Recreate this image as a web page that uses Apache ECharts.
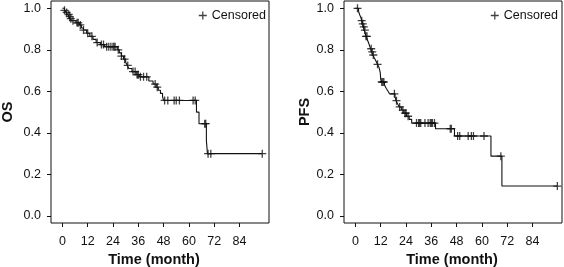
<!DOCTYPE html>
<html>
<head>
<meta charset="utf-8">
<script src="https://cdn.jsdelivr.net/npm/echarts@6/dist/echarts.min.js"></script>
<style>
  html, body { margin: 0; background: #fff; }
  #chart { width: 564px; height: 267px; }
</style>
</head>
<body>
<div id="chart"></div>
<script>
// OS: step times and survival after each step
const osTime = [0, 1.0, 1.8, 2.5, 3.2, 3.8, 4.5, 6.5, 8.0, 9.0, 10.0, 11.5, 13, 14.5, 16, 18, 20,
  26, 27, 28, 29, 30, 30.8, 31.5, 33, 35, 36.5, 41, 43, 44.5, 45.5, 46.5, 47.5, 48,
  63.6, 64.8, 68.3, 68.8];
const osSurv = [1, 0.99, 0.98, 0.97, 0.96, 0.95, 0.94, 0.93, 0.92, 0.905, 0.895, 0.88, 0.865, 0.85, 0.835, 0.825, 0.815,
  0.80, 0.785, 0.77, 0.755, 0.74, 0.725, 0.71, 0.695, 0.68, 0.67, 0.65, 0.635, 0.62, 0.605, 0.59, 0.575, 0.556,
  0.50, 0.444, 0.364, 0.30];
const osEnd = 94.8;
const osCensor = [1, 2, 3, 3.5, 4, 5, 7, 7.5, 8.5, 10, 12, 14, 16.5, 18.5, 19.5, 21, 22, 23, 24, 24.5, 25,
  26.5, 28, 29.5, 31, 33.5, 34.5, 35.5, 36, 37, 38.5, 40, 44, 45, 48.5, 50, 53, 54, 55.5, 62, 63,
  67.5, 68, 69.1, 70.4, 94.8];

// PFS
const pfsTime = [0, 1.5, 2.0, 2.6, 3.0, 3.4, 3.8, 4.2, 4.6, 5.0, 5.6, 6.2, 6.7, 7.2, 7.7, 8.3, 9.0, 9.8,
  10.5, 11.2, 11.8, 12.0, 12.3, 13.8, 14.6, 15.5, 16.2, 18.8, 19.3, 20.0, 20.8, 21.8, 23, 24.3, 25.5, 26.7,
  38, 47, 64.3, 69.5];
const pfsSurv = [1, 0.985, 0.97, 0.955, 0.94, 0.925, 0.91, 0.895, 0.88, 0.865, 0.85, 0.835, 0.82, 0.805, 0.79, 0.775, 0.76, 0.745,
  0.73, 0.715, 0.69, 0.66, 0.645, 0.63, 0.615, 0.60, 0.588, 0.573, 0.555, 0.54, 0.525, 0.51, 0.495, 0.48, 0.465, 0.447,
  0.42, 0.385, 0.288, 0.144];
const pfsEnd = 95.8;
const pfsCensor = [1, 3, 3.5, 4, 4.5, 5, 5.5, 7.5, 8, 8.5, 10.5, 12.5, 13, 13.5, 18.5, 19.5, 21, 22.5, 23.5, 24, 25,
  29, 30, 30.5, 31, 33, 34.5, 35.5, 36, 36.5, 37.5, 45, 45.5, 48.5, 49.5, 53.5, 55, 56, 61, 69, 95.8];

const xTicks = [0, 12, 24, 36, 48, 60, 72, 84];
const yTicks = [0, 0.2, 0.4, 0.6, 0.8, 1.0];

const plusPath = 'path://M0,4.2H10V5.8H0ZM4.2,0H5.8V10H4.2Z';
const ink = '#111';
const font = 'Liberation Sans, Arial, Helvetica, sans-serif';

// value of the step function at time t
function survAt(times, surv, t) {
  let s = surv[0];
  for (let i = 0; i < times.length; i++) {
    if (times[i] <= t) s = surv[i];
  }
  return s;
}

function stepData(times, surv, end) {
  const d = times.map((t, i) => [t, surv[i]]);
  d.push([end, surv[surv.length - 1]]);
  return d;
}

function censorData(times, surv, cens) {
  return cens.map(c => [c, survAt(times, surv, c)]);
}

function makeX(idx, padRight) {
  return {
    gridIndex: idx, type: 'value', min: -5.4, max: 98,
    name: 'Time (month)', nameLocation: 'middle', nameGap: 28,
    nameTextStyle: { fontFamily: font, fontSize: 14.5, fontWeight: 'bold', color: ink, padding: [0, padRight, 0, 0] },
    axisLine: { show: false, onZero: false },
    axisTick: { customValues: xTicks, length: 4, lineStyle: { color: ink } },
    axisLabel: { customValues: xTicks, margin: 12, fontFamily: font, fontSize: 12.5, color: ink },
    splitLine: { show: false }
  };
}

function makeY(idx, name, gap) {
  return {
    gridIndex: idx, type: 'value', min: -0.034, max: 1.035,
    name: name, nameLocation: 'middle', nameGap: gap,
    nameTextStyle: { fontFamily: font, fontSize: 14.5, fontWeight: 'bold', color: ink },
    axisLine: { show: false, onZero: false },
    axisTick: { customValues: yTicks, length: 4, lineStyle: { color: ink } },
    axisLabel: { customValues: yTicks, margin: 10, fontFamily: font, fontSize: 12.5, color: ink,
      formatter: v => v.toFixed(1) },
    splitLine: { show: false }
  };
}

const chart = echarts.init(document.getElementById('chart'));

chart.setOption({
  animation: false,
  backgroundColor: '#fff',
  grid: [
    { left: 51, top: 1, width: 218, height: 222, outerBoundsMode: 'none', show: true, borderColor: ink, borderWidth: 1 },
    { left: 344, top: 1, width: 218, height: 222, outerBoundsMode: 'none', show: true, borderColor: ink, borderWidth: 1 }
  ],
  legend: [
    { data: [{ name: 'Censored', icon: plusPath }], right: 293, top: 4, itemWidth: 8, itemHeight: 8,
      selectedMode: false, textStyle: { fontFamily: font, fontSize: 12.5, color: ink } },
    { data: [{ name: 'Censored', icon: plusPath }], right: 1, top: 4, itemWidth: 8, itemHeight: 8,
      selectedMode: false, textStyle: { fontFamily: font, fontSize: 12.5, color: ink } }
  ],
  xAxis: [makeX(0, 12), makeX(1, 2)],
  yAxis: [makeY(0, 'OS', 36), makeY(1, 'PFS', 32)],
  series: [
    {
      type: 'line', step: 'end', xAxisIndex: 0, yAxisIndex: 0, showSymbol: false,
      lineStyle: { color: ink, width: 1.1 }, data: stepData(osTime, osSurv, osEnd)
    },
    {
      name: 'Censored', type: 'scatter', xAxisIndex: 0, yAxisIndex: 0,
      symbol: plusPath, symbolSize: 8, itemStyle: { color: ink },
      data: censorData(osTime, osSurv, osCensor)
    },
    {
      type: 'line', step: 'end', xAxisIndex: 1, yAxisIndex: 1, showSymbol: false,
      lineStyle: { color: ink, width: 1.1 }, data: stepData(pfsTime, pfsSurv, pfsEnd)
    },
    {
      name: 'Censored', type: 'scatter', xAxisIndex: 1, yAxisIndex: 1,
      symbol: plusPath, symbolSize: 8, itemStyle: { color: ink },
      data: censorData(pfsTime, pfsSurv, pfsCensor)
    }
  ]
});
</script>
</body>
</html>
